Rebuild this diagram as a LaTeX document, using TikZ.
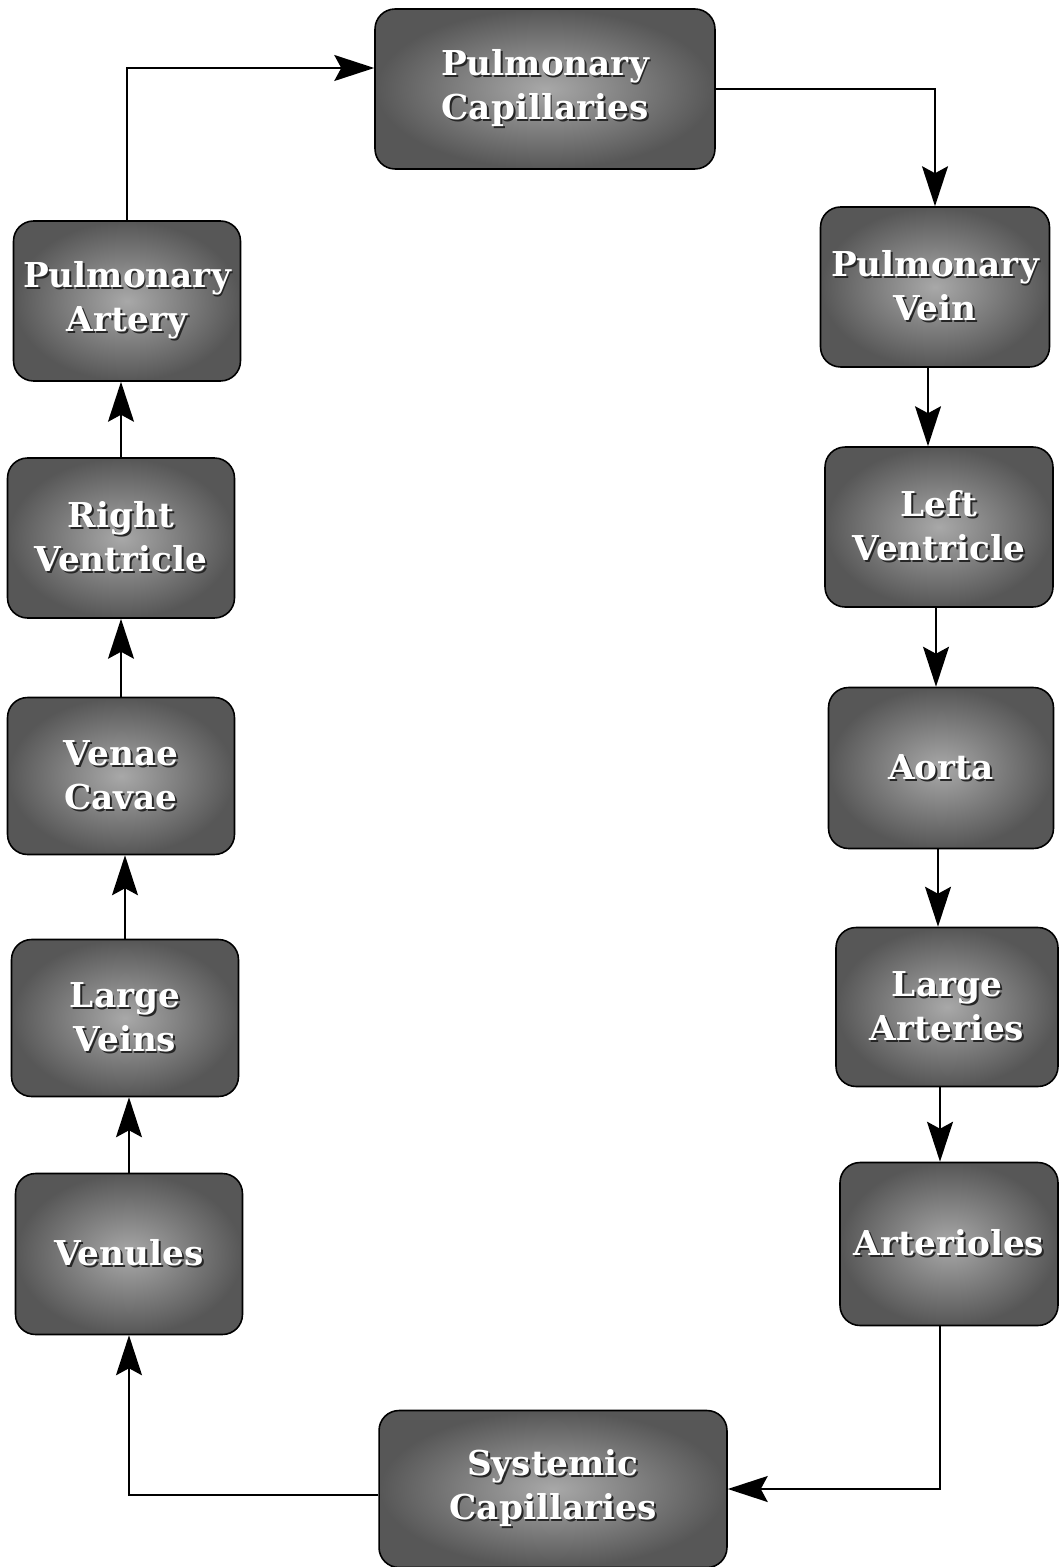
\documentclass[tikz,border=0pt]{standalone}
\usepackage{fontspec}
\setmainfont{DejaVu Serif}
\usepackage{tikz}
\usepackage{xcolor}
\usetikzlibrary{
    arrows.meta,
    shapes,
    calc,
    positioning
}

\newcommand{\emb}[1]{\makebox[0pt][l]{\hspace{1.1pt}\raisebox{-1.1pt}{\color{black!85}#1}}{\color{white}#1}}

\tikzset{
    organ/.style={draw=black, line width=0.9pt, rounded corners=0.4cm,
        inner color=black!34, outer color=black!66,
        minimum width=4.54cm, minimum height=3.2cm, align=center,
        font=\fontsize{19.5}{25}\selectfont\bfseries},
    wideorgan/.style={organ, minimum width=6.8cm, minimum height=3.2cm},
    flow/.style={line width=1pt, -{Stealth[length=0.8cm, width=0.52cm, inset=0.14cm]}}
}

\begin{document}
\begin{tikzpicture}[x=0.02cm, y=-0.02cm]
                        \useasboundingbox (0, 0) rectangle (1058, 1567);

                        \node[wideorgan] (pc) at (545, 89) {\emb{Pulmonary}\\\emb{Capillaries}};
                        \node[wideorgan, minimum width=6.96cm, minimum height=3.14cm] (sc) at (553, 1489) {\emb{Systemic}\\\emb{Capillaries}};

                        \node[organ] (pa) at (127, 301) {\emb{Pulmonary}\\\emb{Artery}};
                        \node[organ] (rv) at (121, 538) {\emb{Right}\\\emb{Ventricle}};
                        \node[organ, minimum height=3.14cm] (vc) at (121, 776) {\emb{Venae}\\\emb{Cavae}};
                        \node[organ, minimum height=3.14cm] (lvn) at (125, 1018) {\emb{Large}\\\emb{Veins}};
                        \node[organ, minimum height=3.22cm] (vn) at (129, 1254) {\emb{Venules}};

                        \node[organ, minimum width=4.58cm] (pv) at (935, 287) {\emb{Pulmonary}\\\emb{Vein}};
                        \node[organ, minimum width=4.56cm] (lv) at (939, 527) {\emb{Left}\\\emb{Ventricle}};
                        \node[organ, minimum width=4.5cm, minimum height=3.22cm] (ao) at (941, 768) {\emb{Aorta}};
                        \node[organ, minimum width=4.44cm, minimum height=3.18cm] (la) at (947, 1007) {\emb{Large}\\\emb{Arteries}};
                        \node[organ, minimum width=4.36cm, minimum height=3.26cm] (ar) at (949, 1244) {\emb{Arterioles}};

                        \draw[flow] (pa.north) |- (pc.west |- 0,68);
                        \draw[flow] (pc.east) -| (pv.north);
                        \draw[flow] (pv.south -| 928,0) -- (lv.north -| 928,0);
                        \draw[flow] (lv.south -| 936,0) -- (ao.north -| 936,0);
                        \draw[flow] (ao.south -| 938,0) -- (la.north -| 938,0);
                        \draw[flow] (la.south -| 940,0) -- (ar.north -| 940,0);
                        \draw[flow] (ar.south -| 940,0) |- (sc.east);
                        \draw[flow] (sc.west |- 0,1495) -| (vn.south);
                        \draw[flow] (vn.north) -- (lvn.south -| vn.north);
                        \draw[flow] (lvn.north) -- (vc.south -| lvn.north);
                        \draw[flow] (vc.north) -- (rv.south);
                        \draw[flow] (rv.north) -- (pa.south -| rv.north);
                    \end{tikzpicture}
\end{document}
